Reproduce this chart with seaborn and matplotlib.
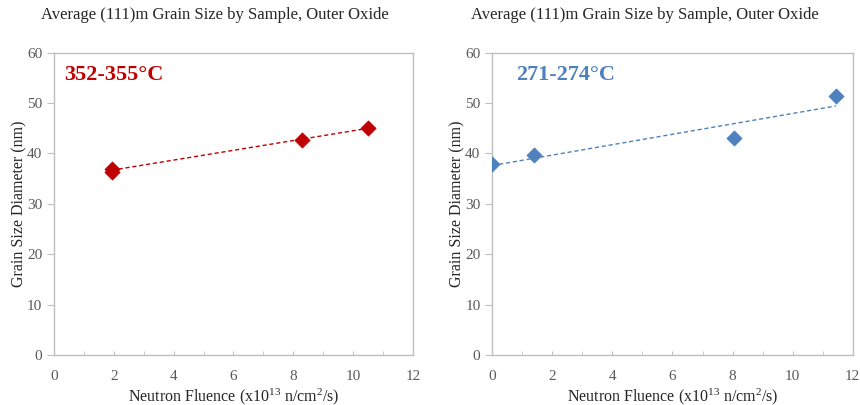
import numpy as np
import pandas as pd
import matplotlib
matplotlib.use("Agg")
import matplotlib.pyplot as plt
import seaborn as sns
from matplotlib.ticker import MultipleLocator

# data
hot_fluence = [1.93, 1.95, 8.3, 10.5]
hot_grain = [37.0, 36.4, 42.7, 45.1]
cold_fluence = [0.0, 1.4, 8.06, 11.44]
cold_grain = [37.9, 39.7, 43.0, 51.4]

title_text = "Average (111)m Grain Size by Sample, Outer Oxide"
x_label = "Neutron Fluence (x10$^{13}$ n/cm$^{2}$/s)"
y_label = "Grain Size Diameter (nm)"
panel_labels = ["352-355°C", "271-274°C"]
panel_colors = ["#C00000", "#4F81BD"]

sns.set_style("white")
plt.rcParams["font.family"] = ["Liberation Serif", "DejaVu Serif"]
plt.rcParams["mathtext.fontset"] = "custom"
plt.rcParams["mathtext.rm"] = "Liberation Serif"
plt.rcParams["mathtext.it"] = "Liberation Serif"

fig = plt.figure(figsize=(8.6, 4.05), dpi=100)
ax_l = fig.add_axes([0.0628, 0.1235, 0.4174, 0.7465])
ax_r = fig.add_axes([0.5724, 0.1235, 0.4191, 0.7465])

panels = [
    (ax_l, hot_fluence, hot_grain),
    (ax_r, cold_fluence, cold_grain),
]

for i, (ax, xs, ys) in enumerate(panels):
    df = pd.DataFrame({"fluence": xs, "grain": ys})
    col = panel_colors[i]

    # linear trendline across the data range
    k, b = np.polyfit(df["fluence"], df["grain"], 1)
    xt = np.array([df["fluence"].min(), df["fluence"].max()])
    ax.plot(xt, k * xt + b, ls=(0, (3, 2)), lw=1.0, color=col, zorder=2)

    sns.scatterplot(data=df, x="fluence", y="grain", ax=ax, marker="D",
                    s=60, color=col, edgecolor=col, linewidth=0.5, zorder=3)

    ax.set_xlim(0, 12)
    ax.set_ylim(0, 60)
    ax.xaxis.set_major_locator(MultipleLocator(2))
    ax.xaxis.set_minor_locator(MultipleLocator(1))
    ax.yaxis.set_major_locator(MultipleLocator(10))
    ax.tick_params(axis="x", which="both", direction="in", length=3, bottom=True,
                   color="#BFBFBF", labelsize=11, labelcolor="#595959", pad=11)
    ax.tick_params(axis="y", which="major", direction="out", length=5, left=True,
                   color="#BFBFBF", labelsize=11, labelcolor="#595959")
    for sp in ax.spines.values():
        sp.set_color("#BFBFBF")
        sp.set_linewidth(1.0)
    ax.set_xlabel(x_label, fontsize=11.5, labelpad=2)
    ax.set_ylabel(y_label, fontsize=11.5, labelpad=0)
    ax.grid(False)

    ax.text(0.028 if i == 0 else 0.065, 0.925, panel_labels[i], transform=ax.transAxes,
            fontsize=16, fontweight="bold", color=col, va="center", ha="left")

fig.text(0.25, 0.962, title_text, fontsize=12, ha="center", va="center")
fig.text(0.75, 0.962, title_text, fontsize=12, ha="center", va="center")

fig.savefig("out.png", dpi=100)
